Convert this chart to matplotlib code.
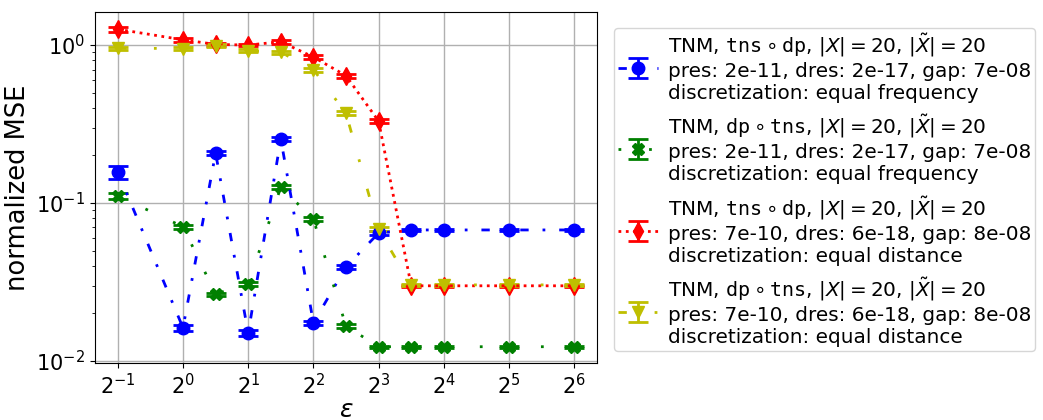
import numpy as np
import matplotlib
matplotlib.use("Agg")
import matplotlib.pyplot as plt

# epsilon values (log2 spaced, half steps up to 2^3.5)
eps = [2**-1, 2**0, 2**0.5, 2**1, 2**1.5, 2**2, 2**2.5, 2**3, 2**3.5, 2**4, 2**5, 2**6]

# normalized MSE per setting
mse_blue = [0.157, 0.0162, 0.207, 0.0150, 0.254, 0.0174, 0.0394, 0.0645, 0.0675, 0.0675, 0.0675, 0.0675]
mse_green = [0.111, 0.0707, 0.0265, 0.0307, 0.126, 0.079, 0.0166, 0.0123, 0.0123, 0.0123, 0.0123, 0.0123]
mse_red = [1.26, 1.08, 1.01, 1.0, 1.05, 0.84, 0.64, 0.33, 0.0299, 0.0299, 0.0299, 0.0299]
mse_yellow = [0.957, 0.95, 0.99, 0.92, 0.90, 0.70, 0.37, 0.068, 0.0303, 0.0303, 0.0303, 0.0303]

# standard errors (mostly tiny)
err_blue = [0.015, 0.0008, 0.005, 0.0007, 0.006, 0.0006, 0.0012, 0.002, 0.0008, 0.0008, 0.0008, 0.0008]
err_green = [0.005, 0.002, 0.0006, 0.0008, 0.004, 0.002, 0.0005, 0.0002, 0.0002, 0.0002, 0.0002, 0.0002]
err_red = [0.05, 0.03, 0.02, 0.02, 0.03, 0.02, 0.02, 0.01, 0.0005, 0.0005, 0.0005, 0.0005]
err_yellow = [0.02, 0.02, 0.02, 0.02, 0.02, 0.02, 0.01, 0.002, 0.0005, 0.0005, 0.0005, 0.0005]

lbl_a = r"TNM, $\mathtt{tns}\circ\mathtt{dp}$, $|X|=20$, $|\tilde{X}|=20$"
lbl_b = r"TNM, $\mathtt{dp}\circ\mathtt{tns}$, $|X|=20$, $|\tilde{X}|=20$"
res_1 = "pres: 2e-11, dres: 2e-17, gap: 7e-08"
res_2 = "pres: 7e-10, dres: 6e-18, gap: 8e-08"
labels = [
    lbl_a + "\n" + res_1 + "\ndiscretization: equal frequency",
    lbl_b + "\n" + res_1 + "\ndiscretization: equal frequency",
    lbl_a + "\n" + res_2 + "\ndiscretization: equal distance",
    lbl_b + "\n" + res_2 + "\ndiscretization: equal distance",
]

fig = plt.figure(figsize=(10.43, 4.2), dpi=100)
ax = fig.add_axes([95/1043, 1-363/420, (597-95)/1043, (363-12)/420])

ax.errorbar(eps, mse_blue, yerr=err_blue, color="b", marker="o", ms=9,
            linestyle=(0, (3, 5, 1, 5)), lw=2, capsize=7, capthick=2, label=labels[0])
ax.errorbar(eps, mse_green, yerr=err_green, color="g", marker="X", ms=9,
            linestyle=(0, (1, 10)), lw=2, capsize=7, capthick=2, label=labels[1])
ax.errorbar(eps, mse_red, yerr=err_red, color="r", marker="d", ms=9,
            linestyle=":", lw=2, capsize=7, capthick=2, label=labels[2])
ax.errorbar(eps, mse_yellow, yerr=err_yellow, color="y", marker="v", ms=9,
            linestyle=(0, (3, 10, 1, 10)), lw=2, capsize=7, capthick=2, label=labels[3])

ax.set_xscale("log", base=2)
ax.set_yscale("log")
ax.set_ylim(0.0097, 1.62)
ax.set_xticks([2.0**k for k in range(-1, 7)])
ax.grid(True, which="major", color="#b0b0b0", lw=1)
ax.tick_params(labelsize=15)
ax.set_xlabel(r"$\epsilon$", fontsize=18, labelpad=0)
ax.set_ylabel("normalized MSE", fontsize=18.5)

fig.legend(loc="upper left", bbox_to_anchor=(604/1043, 1-18/420), fontsize=14.4,
           labelspacing=0.5, handletextpad=0.5, handlelength=2.0, borderpad=0.2)

fig.savefig("out.png", dpi=100)
